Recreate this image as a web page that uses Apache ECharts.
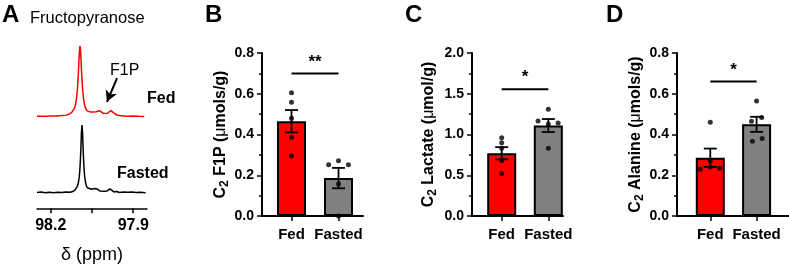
<!DOCTYPE html>
<html>
<head>
<meta charset="utf-8">
<script src="https://cdn.jsdelivr.net/npm/echarts@6/dist/echarts.min.js"></script>
<style>
  html, body { margin: 0; padding: 0; background: #fff; }
  #main { width: 789px; height: 270px; }
</style>
</head>
<body>
<div id="main"></div>
<script>
// panel A: 13C spectra, [ppm, intensity]
var fedSpectrum = [
  [98.25, 0.5], [98.22, 0.5], [98.2, 0.8], [98.18, 1], [98.16, 1.5], [98.1436, 2.2],
  [98.1336, 3.5], [98.1236, 6], [98.1186, 8.5], [98.1136, 12], [98.1096, 18], [98.1066, 25],
  [98.1036, 36], [98.1016, 47], [98.0996, 61], [98.0976, 78], [98.0956, 93], [98.0936, 100],
  [98.0916, 93], [98.0896, 78], [98.0876, 61], [98.0856, 47], [98.0836, 36], [98.0806, 25],
  [98.0776, 18], [98.0736, 12], [98.0686, 8.5], [98.0636, 7], [98.055, 6.5], [98.045, 6.5],
  [98.035, 7], [98.028, 8], [98.023, 8.5], [98.017, 7.5], [98.01, 5], [98.003, 3.8],
  [97.995, 4.5], [97.988, 7], [97.981, 8.5], [97.975, 7], [97.968, 4.5], [97.96, 2.5],
  [97.95, 1.5], [97.935, 1], [97.92, 0.5], [97.9, 0.8], [97.88, 0.5], [97.86, 0.3]
];
var fastedSpectrum = [
  [98.25, 1], [98.235, 1.8], [98.22, 0.8], [98.205, 1.6], [98.19, 0.8], [98.175, 1.5],
  [98.16, 1], [98.145, 1.8], [98.13, 1.5], [98.12, 2.5], [98.1164, 4], [98.1114, 5],
  [98.1064, 7.3], [98.1024, 11], [98.0994, 16], [98.0964, 24], [98.0944, 33], [98.0924, 47],
  [98.0904, 66], [98.0884, 89], [98.0864, 100], [98.0844, 89], [98.0824, 66], [98.0804, 47],
  [98.0784, 33], [98.0764, 24], [98.0734, 16], [98.0704, 11], [98.0664, 8], [98.06, 7],
  [98.052, 6], [98.045, 5.5], [98.039, 7], [98.035, 8], [98.03, 6], [98.022, 3.5],
  [98.015, 2.4], [98.005, 3], [97.995, 3.5], [97.989, 5.5], [97.985, 6.3], [97.979, 4],
  [97.97, 2], [97.96, 2.5], [97.95, 1.2], [97.935, 2], [97.92, 1.5], [97.905, 2],
  [97.89, 1], [97.875, 1.5], [97.855, 0.8]
];
var ppmTicks = [98.2, 98.05, 97.9];
var ppmLabels = [98.2, 97.9];

// panels B-D
var groups = ['Fed', 'Fasted'];

var f1pMean = [0.465, 0.186];
var f1pSem = [0.055, 0.05];
var f1pFed = [0.605, 0.558, 0.48, 0.386, 0.294];
var f1pFasted = [0.251, 0.271, 0.251, 0.157, 0.0];
var f1pFastedJitter = [-0.21, 0, 0.21, 0, 0];

var lacMean = [0.77, 1.11];
var lacSem = [0.075, 0.08];
var lacFed = [0.96, 0.9, 0.83, 0.68, 0.52];
var lacFasted = [1.31, 1.165, 1.13, 1.14, 0.83];
var lacFastedJitter = [0, -0.22, 0, 0.21, 0];

var alaMean = [0.286, 0.45];
var alaSem = [0.045, 0.037];
var alaFed = [0.46, 0.27, 0.23, 0.24, 0.234];
var alaFedJitter = [0, 0, -0.22, 0, 0.2];
var alaFasted = [0.564, 0.483, 0.465, 0.367, 0.38];
var alaFastedJitter = [0, 0.11, -0.11, -0.09, 0.12];

var FONT = 'Liberation Sans';
var chart = echarts.init(document.getElementById('main'));

function pts(vals, x, jitter) {
  return vals.map(function (v, i) { return [x + (jitter ? jitter[i] : 0), v]; });
}

var grids = [
  { left: 37, top: 46, width: 110, height: 72.8 },
  { left: 37, top: 125, width: 110, height: 83.3 }
];
var xAxes = [
  { gridIndex: 0, type: 'value', min: 97.85, max: 98.25, inverse: true, show: false },
  {
    gridIndex: 1, type: 'value', min: 97.85, max: 98.25, inverse: true,
    name: 'δ (ppm)', nameLocation: 'middle', nameGap: 38,
    nameTextStyle: { fontFamily: FONT, fontSize: 18, color: '#000' },
    axisLine: { onZero: false, lineStyle: { color: '#000', width: 1.5 } },
    axisTick: { customValues: ppmTicks, length: 5, lineStyle: { color: '#000', width: 1.5 } },
    axisLabel: {
      customValues: ppmLabels, margin: 9, color: '#000', fontFamily: FONT,
      fontWeight: 'bold', fontSize: 16,
      formatter: function (v) { return v.toFixed(1); }
    },
    splitLine: { show: false }
  }
];
var yAxes = [
  { gridIndex: 0, type: 'value', min: -3, max: 100, show: false },
  { gridIndex: 1, type: 'value', min: -22, max: 100, show: false }
];
var series = [
  {
    type: 'line', xAxisIndex: 0, yAxisIndex: 0, data: fedSpectrum, symbol: 'none',
    lineStyle: { color: '#ff0000', width: 1.5 },
    markLine: {
      silent: true, symbol: ['none', 'arrow'], symbolSize: [9, 11],
      lineStyle: { color: '#000', width: 2, type: 'solid' },
      label: { show: false },
      data: [[{ coord: [97.959, 54.7] }, { coord: [97.9955, 21] }]]
    }
  },
  {
    type: 'line', xAxisIndex: 1, yAxisIndex: 1, data: fastedSpectrum, symbol: 'none',
    lineStyle: { color: '#000', width: 1.5 }
  }
];

var panels = [
  { left: 262, width: 101, xmin: -0.628, xmax: 1.521, ymax: 0.8, step: 0.2, gap: 30,
    name: '{a|C}{s|2}{a| F1P (}{m|μ}{a|mols/g)}',
    mean: f1pMean, sem: f1pSem,
    fed: pts(f1pFed, 0), fasted: pts(f1pFasted, 1, f1pFastedJitter), sig: 0.70, star: '**' },
  { left: 472, width: 91, xmin: -0.637, xmax: 1.315, ymax: 2.0, step: 0.5, gap: 33,
    name: '{a|C}{s|2}{a| Lactate (}{m|μ}{a|mol/g)}',
    mean: lacMean, sem: lacSem,
    fed: pts(lacFed, 0), fasted: pts(lacFasted, 1, lacFastedJitter), sig: 1.555, star: '*' },
  { left: 677, width: 112, xmin: -0.719, xmax: 1.70, ymax: 0.8, step: 0.2, gap: 27,
    name: '{a|C}{s|2}{a| Alanine (}{m|μ}{a|mols/g)}',
    mean: alaMean, sem: alaSem,
    fed: pts(alaFed, 0, alaFedJitter), fasted: pts(alaFasted, 1, alaFastedJitter), sig: 0.66, star: '*' }
];

panels.forEach(function (p, k) {
  var gi = k + 2;
  grids.push({ left: p.left, top: 53, width: p.width, height: 163 });
  xAxes.push({
    gridIndex: gi, type: 'value', min: p.xmin, max: p.xmax,
    axisLine: { onZero: false, lineStyle: { color: '#000', width: 2 } },
    axisTick: { customValues: [0, 1], length: 5, lineStyle: { color: '#000', width: 1.5 } },
    axisLabel: {
      customValues: [0, 1], margin: 11, color: '#000', fontFamily: FONT,
      fontWeight: 'bold', fontSize: 15,
      formatter: function (v) { return groups[Math.round(v)]; }
    },
    splitLine: { show: false }
  });
  yAxes.push({
    gridIndex: gi, type: 'value', min: 0, max: p.ymax, interval: p.step,
    name: p.name, nameLocation: 'middle', nameRotate: 90, nameGap: p.gap,
    nameTextStyle: {
      color: '#000', fontFamily: FONT,
      rich: {
        a: { fontSize: 16, fontWeight: 'bold', fontFamily: FONT, color: '#000' },
        m: { fontSize: 16, fontFamily: FONT, color: '#000' },
        s: { fontSize: 12, fontWeight: 'bold', fontFamily: FONT, color: '#000', verticalAlign: 'bottom', padding: [8, 0, 0, 0] }
      }
    },
    axisLine: { show: true, onZero: false, lineStyle: { color: '#000', width: 2 } },
    axisTick: { length: 5, lineStyle: { color: '#000', width: 1.5 } },
    minorTick: { show: true, splitNumber: 2, length: 3, lineStyle: { color: '#000', width: 1.5 } },
    axisLabel: {
      margin: 8, color: '#000', fontFamily: FONT, fontWeight: 'bold', fontSize: 14,
      formatter: function (v) { return v.toFixed(1); }
    },
    splitLine: { show: false }
  });
  series.push({
    type: 'bar', xAxisIndex: gi, yAxisIndex: gi, barWidth: 29,
    data: [
      { value: [0, p.mean[0]], itemStyle: { color: '#ff0000' } },
      { value: [1, p.mean[1]], itemStyle: { color: '#808080' } }
    ],
    itemStyle: { borderColor: '#000', borderWidth: 2 }
  });
  // SEM whiskers
  series.push({
    type: 'custom', xAxisIndex: gi, yAxisIndex: gi, z: 5,
    data: [0, 1].map(function (i) { return [i, p.mean[i] - p.sem[i], p.mean[i] + p.sem[i]]; }),
    renderItem: function (params, api) {
      var lo = api.coord([api.value(0), api.value(1)]);
      var hi = api.coord([api.value(0), api.value(2)]);
      var w = 6.5;
      var st = { stroke: '#000', lineWidth: 1.8 };
      return {
        type: 'group',
        children: [
          { type: 'line', shape: { x1: lo[0], y1: lo[1], x2: hi[0], y2: hi[1] }, style: st },
          { type: 'line', shape: { x1: lo[0] - w, y1: lo[1], x2: lo[0] + w, y2: lo[1] }, style: st },
          { type: 'line', shape: { x1: hi[0] - w, y1: hi[1], x2: hi[0] + w, y2: hi[1] }, style: st }
        ]
      };
    }
  });
  // significance bar
  series.push({
    type: 'custom', xAxisIndex: gi, yAxisIndex: gi, z: 5,
    data: [[0, 1, p.sig]],
    renderItem: function (params, api) {
      var a = api.coord([api.value(0), api.value(2)]);
      var b = api.coord([api.value(1), api.value(2)]);
      return {
        type: 'group',
        children: [
          { type: 'line', shape: { x1: a[0], y1: a[1], x2: b[0], y2: b[1] }, style: { stroke: '#000', lineWidth: 2 } },
          { type: 'text', x: (a[0] + b[0]) / 2, y: a[1] - 3,
            style: { text: p.star, fill: '#000', font: 'bold 17px ' + FONT, align: 'center', verticalAlign: 'bottom' } }
        ]
      };
    }
  });
  series.push({
    type: 'scatter', xAxisIndex: gi, yAxisIndex: gi, z: 6,
    data: p.fed.concat(p.fasted), symbolSize: 5,
    itemStyle: { color: '#000' }
  });
});

function txt(x, y, s, size, bold) {
  return {
    type: 'text', left: x, top: y,
    style: { text: s, fill: '#000', font: (bold ? 'bold ' : '') + size + 'px ' + FONT }
  };
}

chart.setOption({
  animation: false,
  grid: grids,
  xAxis: xAxes,
  yAxis: yAxes,
  series: series,
  graphic: [
    txt(2, 3, 'A', 24, true),
    txt(30, 10, 'Fructopyranose', 16.5, false),
    txt(110, 63, 'F1P', 16, false),
    txt(147, 91, 'Fed', 16, true),
    txt(117, 166, 'Fasted', 16, true),
    txt(205, 3, 'B', 24, true),
    txt(405, 3, 'C', 24, true),
    txt(606, 3, 'D', 24, true)
  ]
});
</script>
</body>
</html>
